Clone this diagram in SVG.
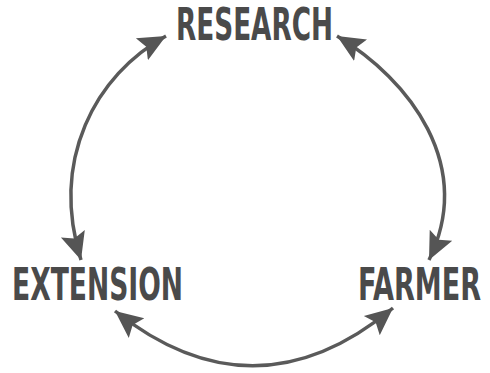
<svg xmlns="http://www.w3.org/2000/svg" width="490" height="373" viewBox="0 0 490 373">
<style>
.lbl{font-family:"DejaVu Sans Condensed","DejaVu Sans","Liberation Sans",sans-serif;font-weight:bold;font-size:45px;fill:#4a4a4a;}
.arc{fill:none;stroke:#5a5a5a;stroke-width:3.5;}
</style>
<defs>
<marker id="ah" markerUnits="userSpaceOnUse" markerWidth="30" markerHeight="30" refX="22" refY="10" orient="auto-start-reverse" viewBox="0 0 24 20">
<path d="M0,0 L22,10 L0,20 L4,10 Z" fill="#555"/>
</marker>
</defs>
<rect width="490" height="373" fill="#fff"/>
<g id="connectors">
<path class="arc" d="M166,36 C95,75 50,160 81,260" marker-start="url(#ah)" marker-end="url(#ah)"/>
<path class="arc" d="M337,36 C410,80 475,165 429,260" marker-start="url(#ah)" marker-end="url(#ah)"/>
<path class="arc" d="M115,311 Q255,422 393,308" marker-start="url(#ah)" marker-end="url(#ah)"/>
</g>
<g id="research"><text class="lbl" x="176" y="40" textLength="157" lengthAdjust="spacingAndGlyphs">RESEARCH</text></g>
<g id="extension"><text class="lbl" x="12" y="300" textLength="171" lengthAdjust="spacingAndGlyphs">EXTENSION</text></g>
<g id="farmer"><text class="lbl" x="358" y="300" textLength="123" lengthAdjust="spacingAndGlyphs">FARMER</text></g>
</svg>
